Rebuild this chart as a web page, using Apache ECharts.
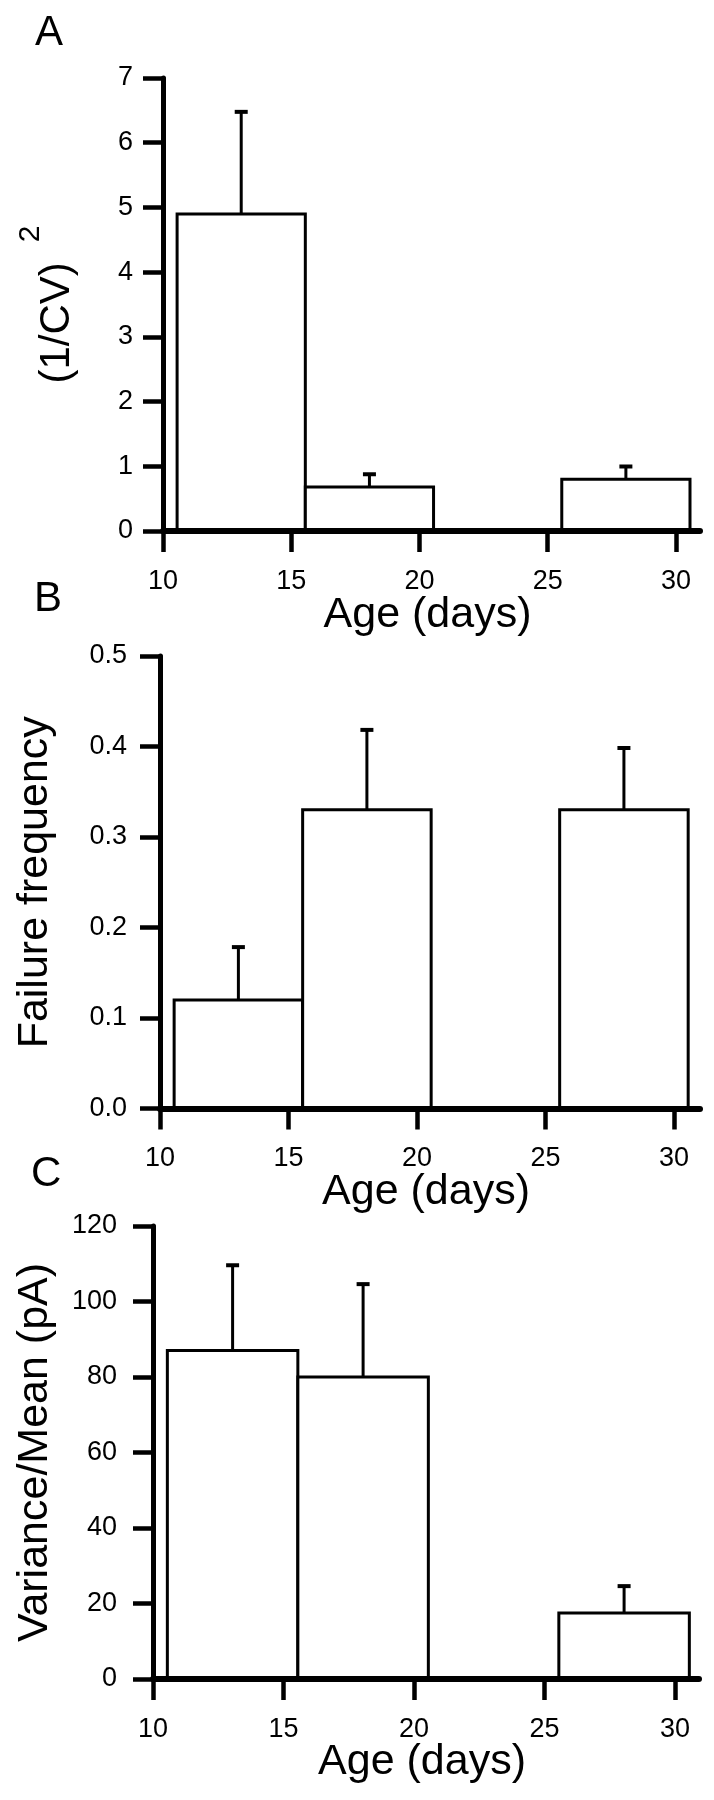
<!DOCTYPE html>
<html>
<head>
<meta charset="utf-8">
<script src="https://cdn.jsdelivr.net/npm/echarts@6/dist/echarts.min.js"></script>
<style>
html,body{margin:0;padding:0;background:#fff;}
#chart{width:714px;height:1800px;}
</style>
</head>
<body>
<div id="chart"></div>
<script>
// Age bins (days)
const binStart = [10.55, 15.55, 25.55];
const binEnd   = [15.55, 20.55, 30.55];
const xTicks = [10, 15, 20, 25, 30];

// Panel A: (1/CV)^2
const cvValues = [4.9, 0.68, 0.8];
const cvErrTop = [6.5, 0.9, 1.02];
// Panel B: failure frequency
const failValues = [0.12, 0.33, 0.33];
const failErrTop = [0.18, 0.42, 0.40];
// Panel C: variance/mean (pA)
const vmValues = [87, 80, 17.5];
const vmErrTop = [110, 105, 25];

const FONT = '"Liberation Sans", Arial, Helvetica, sans-serif';

function rows(vals, errs) {
  return vals.map((v, i) => [binStart[i], binEnd[i], v, errs[i]]);
}

function barItem(params, api) {
  const p0 = api.coord([api.value(0), api.value(2)]);
  const p1 = api.coord([api.value(1), 0]);
  return {
    type: 'rect',
    shape: {x: p0[0], y: p0[1], width: p1[0] - p0[0], height: p1[1] - p0[1]},
    style: {fill: '#fff', stroke: '#000', lineWidth: 3}
  };
}
function errItem(params, api) {
  const c = (api.value(0) + api.value(1)) / 2;
  const top = api.coord([c, api.value(3)]);
  const base = api.coord([c, api.value(2)]);
  return {
    type: 'group',
    children: [
      {type: 'line', shape: {x1: base[0], y1: base[1], x2: top[0], y2: top[1] + 1.5},
       style: {stroke: '#000', lineWidth: 3}},
      {type: 'line', shape: {x1: top[0] - 6.5, y1: top[1] + 1.5, x2: top[0] + 6.5, y2: top[1] + 1.5},
       style: {stroke: '#000', lineWidth: 4}}
    ]
  };
}

const grids = [
  {left: 163, top: 78, width: 537, height: 453},
  {left: 160, top: 656, width: 540, height: 452.5},
  {left: 153, top: 1226, width: 546, height: 453}
];
const xMax = [30.94, 31.01, 30.92];
const xNameGap = [63, 62, 62];

function xAxis(i) {
  return {
    type: 'value', gridIndex: i, min: 10, max: xMax[i], z: 5,
    name: 'Age (days)', nameLocation: 'middle', nameGap: xNameGap[i],
    nameMoveOverlap: false,
    nameTextStyle: {fontFamily: FONT, fontSize: 43, color: '#000', padding: [0, 8, 0, 0]},
    axisLine: {show: true, lineStyle: {color: '#000', width: 6}},
    axisTick: {show: true, length: 21, lineStyle: {color: '#000', width: 4.5}, customValues: xTicks},
    axisLabel: {show: true, margin: 37, fontFamily: FONT, fontSize: 27, color: '#000', customValues: xTicks},
    splitLine: {show: false}
  };
}

const yCommon = {
  type: 'value', min: 0, z: 5, nameLocation: 'middle', nameRotate: 90, nameMoveOverlap: false,
  axisLine: {show: true, lineStyle: {color: '#000', width: 5}},
  axisTick: {show: true, length: 20, lineStyle: {color: '#000', width: 4.5}},
  splitLine: {show: false}
};

const option = {
  backgroundColor: '#fff',
  animation: false,
  title: [
    {text: 'A', left: 35, top: 12, padding: 0, textStyle: {fontFamily: FONT, fontSize: 42, fontWeight: 'normal', color: '#000'}},
    {text: 'B', left: 34, top: 578, padding: 0, textStyle: {fontFamily: FONT, fontSize: 42, fontWeight: 'normal', color: '#000'}},
    {text: 'C', left: 31, top: 1153, padding: 0, textStyle: {fontFamily: FONT, fontSize: 42, fontWeight: 'normal', color: '#000'}}
  ],
  grid: grids.map(g => Object.assign({outerBoundsMode: 'none', containLabel: false}, g)),
  xAxis: [xAxis(0), xAxis(1), xAxis(2)],
  yAxis: [
    Object.assign({}, yCommon, {
      gridIndex: 0, max: 7, interval: 1,
      name: '{m|(1/CV)}{s|2}', nameGap: 65,
      nameTextStyle: {color: '#000', rich: {
        m: {fontFamily: FONT, fontSize: 42, color: '#000'},
        s: {fontFamily: FONT, fontSize: 30, color: '#000', padding: [0, 0, 52, 20]}
      }},
      axisLabel: {margin: 30, fontFamily: FONT, fontSize: 27, color: '#000'}
    }),
    Object.assign({}, yCommon, {
      gridIndex: 1, max: 0.5, interval: 0.1,
      name: 'Failure frequency', nameGap: 103,
      nameTextStyle: {fontFamily: FONT, fontSize: 43, color: '#000'},
      axisLabel: {margin: 33, fontFamily: FONT, fontSize: 27, color: '#000',
                  formatter: v => v.toFixed(1)}
    }),
    Object.assign({}, yCommon, {
      gridIndex: 2, max: 120, interval: 20,
      name: 'Variance/Mean (pA)', nameGap: 96,
      nameTextStyle: {fontFamily: FONT, fontSize: 43, color: '#000'},
      axisLabel: {margin: 36, fontFamily: FONT, fontSize: 27, color: '#000'}
    })
  ],
  series: [
    {type: 'custom', xAxisIndex: 0, yAxisIndex: 0, renderItem: barItem, data: rows(cvValues, cvErrTop), z: 2, encode: {x: [0, 1], y: 2}},
    {type: 'custom', xAxisIndex: 0, yAxisIndex: 0, renderItem: errItem, data: rows(cvValues, cvErrTop), z: 3, encode: {x: [0, 1], y: [2, 3]}},
    {type: 'custom', xAxisIndex: 1, yAxisIndex: 1, renderItem: barItem, data: rows(failValues, failErrTop), z: 2, encode: {x: [0, 1], y: 2}},
    {type: 'custom', xAxisIndex: 1, yAxisIndex: 1, renderItem: errItem, data: rows(failValues, failErrTop), z: 3, encode: {x: [0, 1], y: [2, 3]}},
    {type: 'custom', xAxisIndex: 2, yAxisIndex: 2, renderItem: barItem, data: rows(vmValues, vmErrTop), z: 2, encode: {x: [0, 1], y: 2}},
    {type: 'custom', xAxisIndex: 2, yAxisIndex: 2, renderItem: errItem, data: rows(vmValues, vmErrTop), z: 3, encode: {x: [0, 1], y: [2, 3]}}
  ]
};

const chart = echarts.init(document.getElementById('chart'), null, {renderer: 'canvas'});
chart.setOption(option);
</script>
</body>
</html>
